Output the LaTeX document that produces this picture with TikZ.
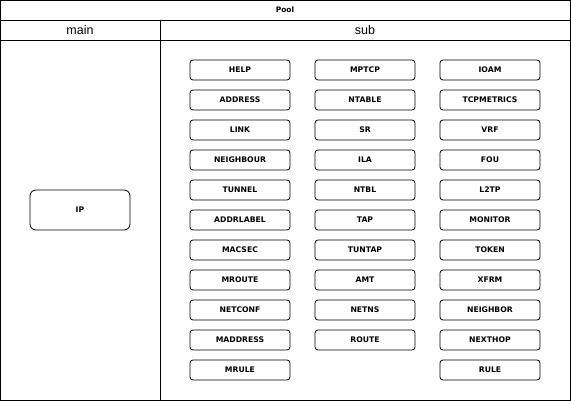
\documentclass[tikz,border=0pt]{standalone}
\usepackage{fontspec}
\setmainfont{Liberation Sans}
\newfontfamily\labelfont{DejaVu Sans}
\tikzset{
  cmd/.style={draw,line width=0.8pt,rounded corners=3pt,minimum width=100pt,minimum height=20pt,
    inner sep=0pt,font=\labelfont\bfseries\fontsize{7.7}{8}\selectfont},
  pane/.style={draw,line width=0.9pt}
}
\begin{document}
\begin{tikzpicture}[x=1pt,y=-1pt]
    \useasboundingbox (0,0) rectangle (571,401);
    % pool frame
    \draw[pane] (0.5,0.5) rectangle (570.5,400.5);
    \draw[pane] (0.5,20) -- (570.5,20);
    \draw[pane] (0.5,40) -- (570.5,40);
    \draw[pane] (160,20) -- (160,400.5);
    \node[font=\labelfont\bfseries\fontsize{7.5}{8}\selectfont] (pool) at (285,10) {Pool};
    \node[font=\fontsize{12.5}{14}\selectfont] (main) at (80,30) {main};
    \node[font=\fontsize{12.5}{14}\selectfont] (sub) at (365,30) {sub};
    % main lane
    \node[cmd,rounded corners=6pt,minimum height=40pt] (ip) at (80,210) {IP};
    % sub lane
    \foreach \name [count=\i] in {HELP,ADDRESS,LINK,NEIGHBOUR,TUNNEL,ADDRLABEL,MACSEC,MROUTE,NETCONF,MADDRESS,MRULE}
      \node[cmd] (a\i) at (240,40+30*\i) {\name};
    \foreach \name [count=\i] in {MPTCP,NTABLE,SR,ILA,NTBL,TAP,TUNTAP,AMT,NETNS,ROUTE}
      \node[cmd] (b\i) at (365,40+30*\i) {\name};
    \foreach \name [count=\i] in {IOAM,TCPMETRICS,VRF,FOU,L2TP,MONITOR,TOKEN,XFRM,NEIGHBOR,NEXTHOP,RULE}
      \node[cmd] (c\i) at (490,40+30*\i) {\name};
\end{tikzpicture}
\end{document}
